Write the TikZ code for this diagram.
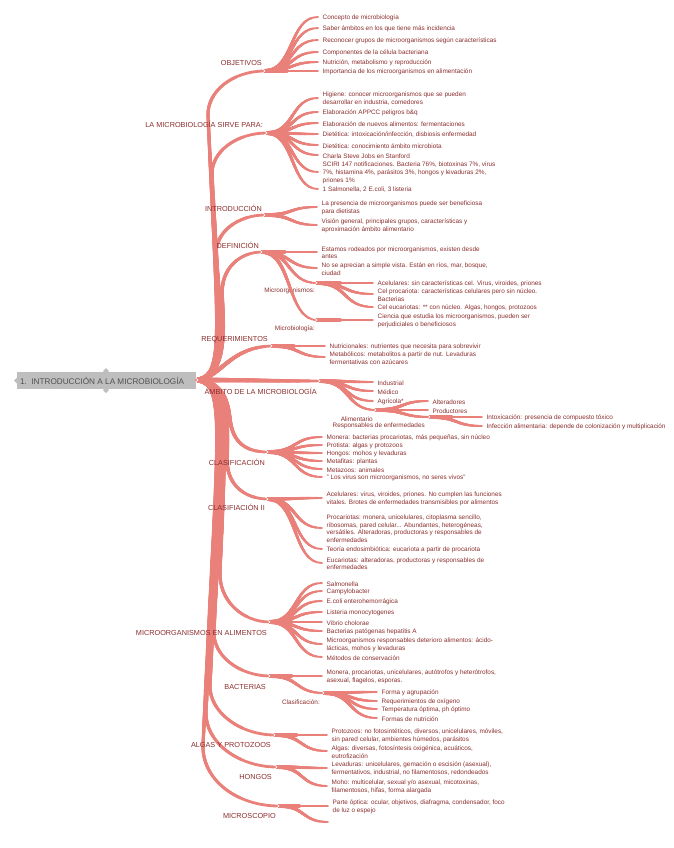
\documentclass[tikz,border=0pt]{standalone}
\usepackage{fontspec}
\setmainfont{Liberation Sans}
\usetikzlibrary{positioning,calc,decorations.markings}
\definecolor{rama}{RGB}{234,128,122}
\definecolor{texto}{RGB}{139,45,45}
\definecolor{raizgris}{RGB}{190,190,190}
\definecolor{raiztexto}{RGB}{80,80,80}
\tikzset{
  ramal/.style={draw=rama, line cap=round},
  medir/.style={decorate, decoration={markings, mark=at position 0 with {%
        \pgfmathsetmacro{\largotmp}{\pgfdecoratedpathlength}\xdef\largo{\largotmp}}}},
  hoja/.style={font=\fontsize{6.4}{7.8}\selectfont, text=texto, align=left, inner sep=0pt},
  rotulo/.style={font=\fontsize{7.3}{9}\selectfont, text=texto, inner sep=0pt, anchor=base east},
  subrotulo/.style={font=\fontsize{6.4}{7.8}\selectfont, text=texto, inner sep=0pt, anchor=base east},
  pliegue/.style={draw=white, line width=0.6pt},
}
% trazo que se adelgaza: ancho inicial, ancho final, camino
\newcommand{\trazo}[3]{%
  \path[medir] #3;
  \foreach \k in {1,...,12}{%
    \pgfmathsetmacro{\ancho}{#2+(#1-#2)*(\k-1)/11}%
    \pgfmathsetmacro{\tramo}{\largo*(13-\k)/12}%
    \draw[ramal, line width=\ancho pt, dash pattern=on \tramo pt off 3000pt] #3;
  }}
\newcommand{\limb}[1]{\trazo{4.8}{2.8}{#1}}
% rama secundaria entre dos puntos con nombre
\newcommand{\rama}[2]{\trazo{3.8}{1.9}{(#1) .. controls ($(#1)!0.55!(#1 -| #2)$) and ($(#1 |- #2)!0.45!(#2)$) .. (#2)}}
% hoja: padre, nombre, x, y, texto
\newcommand{\leaf}[5]{%
  \coordinate (#2t) at (#3,#4);
  \rama{#1}{#2t}
  \node[hoja, right=4.5pt of #2t, yshift=-0.8pt] (#2) {#5};}
\newcommand{\pliegue}[1]{\draw[pliegue] ([shift={(-2.5,-2)}]#1) -- (#1) -- ([shift={(-2.5,2)}]#1);}

\begin{document}
\begin{tikzpicture}[x=1pt, y=-1pt]
\useasboundingbox (0,0) rectangle (673,848);

% Raíz
\node[fill=raizgris, minimum width=179pt, minimum height=17pt, inner sep=0pt] (raiz) at (106.5,380.5) {};
\node[text=raiztexto, font=\fontsize{8.2}{10}\selectfont, inner sep=0pt, anchor=west] (raiztxt) at ([xshift=3pt]raiz.west) {1.\ \ INTRODUCCIÓN A LA MICROBIOLOGÍA};
\fill[raizgris] (106,368) -- (109,371) -- (106,374) -- (103,371) -- cycle;
\fill[raizgris] (106,387) -- (109,390) -- (106,393) -- (103,390) -- cycle;
\fill[raizgris] (17.5,377) -- (14,380.5) -- (17.5,384) -- cycle;
\coordinate (r) at (198,380);

% Ramas principales
\coordinate (obj) at (265,71);
\coordinate (sir) at (267,133);
\coordinate (intro) at (265,215);
\coordinate (def) at (262,252);
\coordinate (req) at (272,346);
\coordinate (amb) at (320,381);
\coordinate (cla) at (268,452);
\coordinate (clb) at (268,499);
\coordinate (mal) at (270,622);
\coordinate (bac) at (270,676);
\coordinate (alg) at (275,735);
\coordinate (hon) at (277,767);
\coordinate (mic) at (279,806);
\limb{(r) .. controls (226,375) and (218,330) .. (208,116) .. controls (207,91) and (233,71) .. (obj)}
\limb{(r) .. controls (226,375) and (220,330) .. (212,175) .. controls (211,152) and (236,133) .. (sir)}
\limb{(r) .. controls (226,375) and (222,330) .. (216,255) .. controls (215,232) and (238,215) .. (intro)}
\limb{(r) .. controls (226,375) and (224,330) .. (222,295) .. controls (221,268) and (240,252) .. (def)}
\limb{(r) .. controls (222,376) and (230,347) .. (req)}
\limb{(r) .. controls (250,380) and (270,381) .. (amb)}
\limb{(r) .. controls (225,383) and (228,405) .. (230,420) .. controls (233,442) and (245,452) .. (cla)}
\limb{(r) .. controls (228,385) and (228,420) .. (227,460) .. controls (227,485) and (245,499) .. (clb)}
\limb{(r) .. controls (228,385) and (226,430) .. (220,570) .. controls (218,600) and (242,622) .. (mal)}
\limb{(r) .. controls (228,385) and (224,430) .. (214,630) .. controls (212,656) and (240,676) .. (bac)}
\limb{(r) .. controls (228,385) and (222,430) .. (210,685) .. controls (209,712) and (240,735) .. (alg)}
\limb{(r) .. controls (228,385) and (220,430) .. (206,712) .. controls (205,742) and (238,767) .. (hon)}
\limb{(r) .. controls (228,385) and (218,430) .. (203,745) .. controls (202,780) and (237,806) .. (mic)}

% Objetivos
\leaf{obj}{o1}{318}{17}{Concepto de microbiología}
\leaf{obj}{o2}{318}{28}{Saber ámbitos en los que tiene más incidencia}
\leaf{obj}{o3}{318}{40}{Reconocer grupos de microorganismos según características}
\leaf{obj}{o4}{318}{52}{Componentes de la célula bacteriana}
\leaf{obj}{o5}{318}{62}{Nutrición, metabolismo y reproducción}
\leaf{obj}{o6}{318}{71}{Importancia de los microorganismos en alimentación}

% Sirve para
\leaf{sir}{s1}{318}{98}{Higiene: conocer microorganismos que se pueden\\desarrollar en industria, comedores}
\leaf{sir}{s2}{318}{112}{Elaboración APPCC peligros b\&q}
\leaf{sir}{s3}{318}{123}{Elaboración de nuevos alimentos: fermentaciones}
\leaf{sir}{s4}{318}{134}{Dietética: intoxicación/infección, disbiosis enfermedad}
\leaf{sir}{s5}{318}{145}{Dietética: conocimiento ámbito microbiota}
\leaf{sir}{s6}{318}{155}{Charla Steve Jobs en Stanford}
\leaf{sir}{s7}{318}{172}{SCIRI 147 notificaciones. Bacteria 76\%, biotoxinas 7\%, virus\\7\%, histamina 4\%, parásitos 3\%, hongos y levaduras 2\%,\\priones 1\%}
\leaf{sir}{s8}{318}{189}{1 Salmonella, 2 E.coli, 3 listeria}

% Introducción
\leaf{intro}{i1}{317}{207}{La presencia de microorganismos puede ser beneficiosa\\para dietistas}
\leaf{intro}{i2}{317}{225}{Visión general, principales grupos, características y\\aproximación ámbito alimentario}

% Definición
\leaf{def}{d1}{317}{252}{Estamos rodeados por microorganismos, existen desde\\antes}
\leaf{def}{d2}{317}{268}{No se aprecian a simple vista. Están en ríos, mar, bosque,\\ciudad}
\coordinate (dmo) at (317,283);
\rama{def}{dmo}
\node[subrotulo] (lmo) at (315,292) {Microorganismos:};
\leaf{dmo}{d3}{373}{283}{Acelulares: sin características cel. Virus, viroides, priones}
\leaf{dmo}{d4}{373}{294}{Cel procariota: características celulares pero sin núcleo.\\Bacterias}
\leaf{dmo}{d5}{373}{307}{Cel eucariotas: ** con núcleo. Algas, hongos, protozoos}
\coordinate (dmb) at (317,320);
\rama{def}{dmb}
\node[subrotulo] (lmb) at (315,330) {Microbiología:};
\leaf{dmb}{d6}{373}{320}{Ciencia que estudia los microorganismos, pueden ser\\perjudiciales o beneficiosos}

% Requerimientos
\leaf{req}{q1}{325}{346}{Nutricionales: nutrientes que necesita para sobrevivir}
\leaf{req}{q2}{325}{357}{Metabólicos: metabolitos a partir de nut. Levaduras\\fermentativas con azúcares}

% Ámbito
\leaf{amb}{a1}{373}{382}{Industrial}
\leaf{amb}{a2}{373}{391}{Médico}
\leaf{amb}{a3}{373}{401}{Agrícola*}
\coordinate (ali) at (376,410);
\rama{amb}{ali}
\node[subrotulo] (lali) at (373,421) {Alimentario};
\leaf{ali}{a4}{428}{401}{Alteradores}
\leaf{ali}{a5}{428}{410}{Productores}
\coordinate (res) at (430,417);
\rama{ali}{res}
\node[subrotulo] (lres) at (425,427) {Responsables de enfermedades};
\leaf{res}{a6}{482}{417}{Intoxicación: presencia de compuesto tóxico}
\leaf{res}{a7}{482}{426}{Infección alimentaria: depende de colonización y multiplicación}

% Clasificación
\leaf{cla}{c1}{322}{437}{Monera: bacterias procariotas, más pequeñas, sin núcleo}
\leaf{cla}{c2}{322}{445}{Protista: algas y protozoos}
\leaf{cla}{c3}{322}{453}{Hongos: mohos y levaduras}
\leaf{cla}{c4}{322}{461}{Metafitas: plantas}
\leaf{cla}{c5}{322}{469}{Metazoos: animales}
\leaf{cla}{c6}{322}{477}{" Los virus son microorganismos, no seres vivos"}

% Clasifiación II
\leaf{clb}{e1}{322}{498}{Acelulares: virus, viroides, priones. No cumplen las funciones\\vitales. Brotes de enfermedades transmisibles por alimentos}
\leaf{clb}{e2}{322}{528}{Procariotas: monera, unicelulares, citoplasma sencillo,\\ribosomas, pared celular... Abundantes, heterogéneas,\\versátiles. Alteradoras, productoras y responsables de\\enfermedades}
\leaf{clb}{e3}{322}{549}{Teoría endosimbiótica: eucariota a partir de procariota}
\leaf{clb}{e4}{322}{563}{Eucariotas: alteradoras, productoras y responsables de\\enfermedades}

% Microorganismos en alimentos
\leaf{mal}{m1}{322}{583}{Salmonella}
\leaf{mal}{m2}{322}{591}{Campylobacter}
\leaf{mal}{m3}{322}{601}{E.coli enterohemorrágica}
\leaf{mal}{m4}{322}{612}{Listeria monocytogenes}
\leaf{mal}{m5}{322}{622}{Vibrio cholorae}
\leaf{mal}{m6}{322}{631}{Bacterias patógenas hepatitis A}
\leaf{mal}{m7}{322}{644}{Microorganismos responsables deterioro alimentos: ácido-\\lácticas, mohos y levaduras}
\leaf{mal}{m8}{322}{657}{Métodos de conservación}

% Bacterias
\leaf{bac}{b1}{322}{676}{Monera, procariotas, unicelulares, autótrofos y heterótrofos,\\asexual, flagelos, esporas.}
\coordinate (bcl) at (324,693);
\rama{bac}{bcl}
\node[subrotulo] (lbcl) at (320,704) {Clasificación:};
\leaf{bcl}{b2}{377}{692}{Forma y agrupación}
\leaf{bcl}{b3}{377}{701}{Requerimientos de oxígeno}
\leaf{bcl}{b4}{377}{709}{Temperatura óptima, ph óptimo}
\leaf{bcl}{b5}{377}{718}{Formas de nutrición}

% Algas, hongos, microscopio
\leaf{alg}{g1}{327}{735}{Protozoos: no fotosintéticos, diversos, unicelulares, móviles,\\sin pared celular, ambientes húmedos, parásitos}
\leaf{alg}{g2}{327}{751}{Algas: diversas, fotosíntesis oxigénica, acuáticos,\\eutrofización}
\leaf{hon}{h1}{327}{768}{Levaduras: unicelulares, gemación o escisión (asexual),\\fermentativos, industrial, no filamentosos, redondeados}
\leaf{hon}{h2}{327}{786}{Moho: multicelular, sexual y/o asexual, micotoxinas,\\filamentosos, hifas, forma alargada}
\leaf{mic}{k1}{328}{806}{Parte óptica: ocular, objetivos, diafragma, condensador, foco\\de luz o espejo}
\coordinate (k2t) at (328,822);
\rama{mic}{k2t}

% Rótulos de las ramas principales
\node[rotulo] (lobj) at (262,66) {OBJETIVOS};
\node[rotulo] (lsir) at (263,128) {LA MICROBIOLOGÍA SIRVE PARA:};
\node[rotulo] (lint) at (262,211) {INTRODUCCIÓN};
\node[rotulo] (ldef) at (259,248) {DEFINICIÓN};
\node[rotulo] (lreq) at (268,341) {REQUERIMIENTOS};
\node[rotulo] (lamb) at (317,394) {ÁMBITO DE LA MICROBIOLOGÍA};
\node[rotulo] (lcla) at (265,465) {CLASIFICACIÓN};
\node[rotulo] (lclb) at (265,510) {CLASIFIACIÓN II};
\node[rotulo] (lmal) at (267,635) {MICROORGANISMOS EN ALIMENTOS};
\node[rotulo] (lbac) at (266,689) {BACTERIAS};
\node[rotulo] (lalg) at (271,747) {ALGAS Y PROTOZOOS};
\node[rotulo] (lhon) at (272,779) {HONGOS};
\node[rotulo] (lmic) at (276,818) {MICROSCOPIO};

% Marcas de plegado
\pliegue{r}
\pliegue{obj} \pliegue{sir} \pliegue{intro} \pliegue{def} \pliegue{req}
\pliegue{amb} \pliegue{cla} \pliegue{clb} \pliegue{mal} \pliegue{bac}
\pliegue{alg} \pliegue{hon} \pliegue{mic}
\pliegue{dmo} \pliegue{dmb} \pliegue{ali} \pliegue{res} \pliegue{bcl}
\end{tikzpicture}
\end{document}
